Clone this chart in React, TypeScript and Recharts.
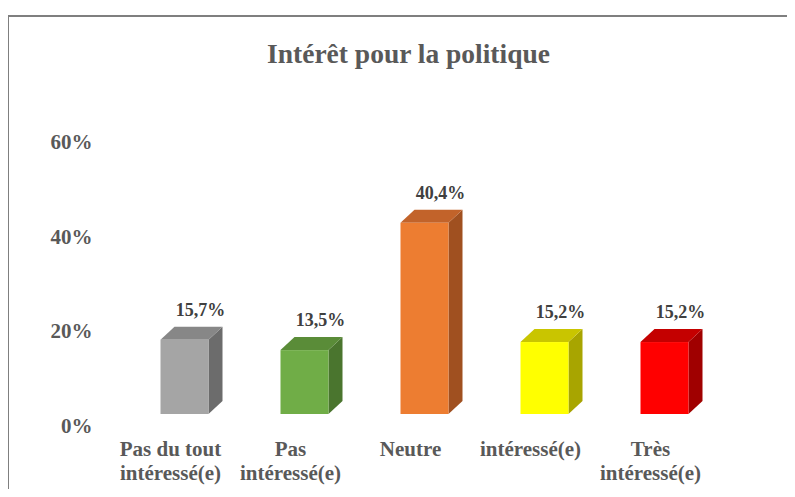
import { BarChart, Bar, XAxis, YAxis, LabelList, Cell } from "recharts";

const categories = [
  "Pas du tout\nintéressé(e)",
  "Pas\nintéressé(e)",
  "Neutre",
  "intéressé(e)",
  "Très\nintéressé(e)",
];
const shares = [15.7, 13.5, 40.4, 15.2, 15.2];
const yTicks = [0, 20, 40, 60];

// front, top, side
const FACES = [
  ["#a5a5a5", "#878787", "#6c6c6c"],
  ["#70ad47", "#5a8c38", "#4a752e"],
  ["#ed7d31", "#c2632a", "#a05020"],
  ["#ffff00", "#c9c500", "#a8a500"],
  ["#ff0000", "#c40000", "#a00000"],
];

const data = categories.map((name, i) => ({ name, value: shares[i], idx: i }));

const SERIF = '"Liberation Serif", "Times New Roman", serif';
const DX = 14;
const DY = 13;

function Box3D(props: any) {
  const { x, y, width, height, payload } = props;
  const [front, top, side] = FACES[payload.idx];
  return (
    <g>
      <polygon
        points={`${x + width},${y} ${x + width + DX},${y - DY} ${x + width + DX},${y + height - DY} ${x + width},${y + height}`}
        fill={side}
      />
      <polygon
        points={`${x},${y} ${x + DX},${y - DY} ${x + width + DX},${y - DY} ${x + width},${y}`}
        fill={top}
      />
      <rect x={x} y={y} width={width} height={height} fill={front} />
    </g>
  );
}

function XTick(props: any) {
  const { x, y, payload } = props;
  const lines = String(payload.value).split("\n");
  return (
    <g>
      {lines.map((l: string, i: number) => (
        <text
          key={i}
          x={x - 14}
          y={y + 42 + i * 24}
          textAnchor="middle"
          fontFamily={SERIF}
          fontWeight="bold"
          fontSize={21}
          fill="#595959"
        >
          {l}
        </text>
      ))}
    </g>
  );
}

function YTick(props: any) {
  const { x, y, payload } = props;
  return (
    <text
      x={x - 32}
      y={y + 19}
      textAnchor="end"
      fontFamily={SERIF}
      fontWeight="bold"
      fontSize={21}
      fill="#595959"
    >
      {payload.value}%
    </text>
  );
}

function ValueLabel(props: any) {
  const { x, y, width, value } = props;
  return (
    <text
      x={x + width / 2 + 16}
      y={y - 24}
      textAnchor="middle"
      fontFamily={SERIF}
      fontWeight="bold"
      fontSize={18}
      fill="#404040"
    >
      {Number(value).toFixed(1).replace(".", ",")}%
    </text>
  );
}

export default function App() {
  return (
    <div style={{ position: "relative", margin: -8, width: 795, height: 497, overflow: "hidden", background: "#fff" }}>
      <div
        style={{
          position: "absolute",
          left: 7,
          top: 15,
          width: 900,
          height: 600,
          borderTop: "2px solid #7f7f7f",
          borderLeft: "2px solid #7f7f7f",
        }}
      />
      <div
        style={{
          position: "absolute",
          left: 0,
          top: 38,
          width: 817,
          textAlign: "center",
          fontFamily: SERIF,
          fontWeight: "bold",
          fontSize: 27.5,
          color: "#595959",
        }}
      >
        Intérêt pour la politique
      </div>
      <div style={{ position: "absolute", left: 0, top: 0 }}>
        <BarChart
          width={795}
          height={497}
          data={data}
          margin={{ top: 130, right: 70.5, left: 64.5, bottom: 53 }}
          barSize={48}
        >
          <XAxis
            dataKey="name"
            height={30}
            axisLine={false}
            tickLine={false}
            tickSize={0}
            tickMargin={0}
            interval={0}
            tick={<XTick />}
          />
          <YAxis
            width={60}
            domain={[0, 60]}
            ticks={yTicks}
            axisLine={false}
            tickLine={false}
            tickSize={0}
            tickMargin={0}
            tick={<YTick />}
          />
          <Bar dataKey="value" shape={<Box3D />} isAnimationActive={false}>
            {data.map((d, i) => (
              <Cell key={i} fill={FACES[i][0]} />
            ))}
            <LabelList dataKey="value" content={<ValueLabel />} />
          </Bar>
        </BarChart>
      </div>
    </div>
  );
}
